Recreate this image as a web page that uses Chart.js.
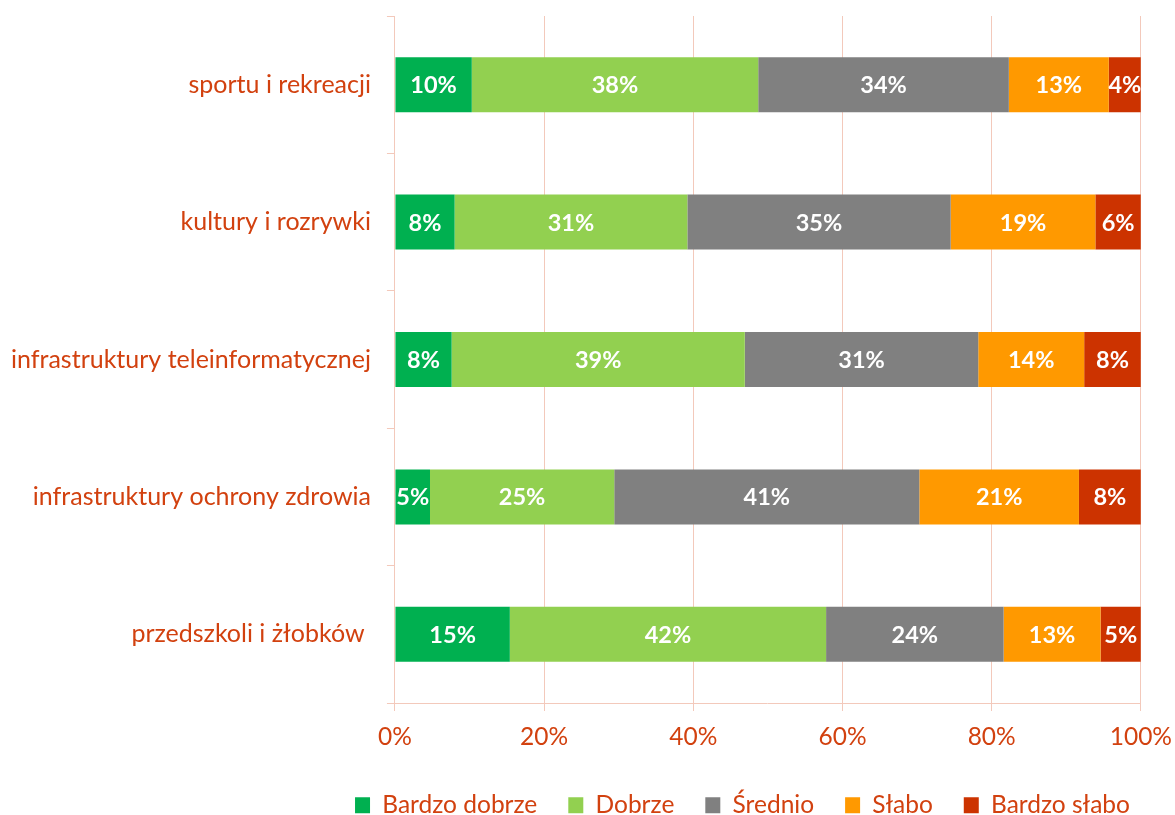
<!DOCTYPE html>
<html>
<head>
<meta charset="utf-8">
<script src="https://cdn.jsdelivr.net/npm/chart.js@4"></script>
<style>
    html, body { margin: 0; padding: 0; background: #ffffff; }
    #wrap { width: 1175px; height: 815px; }
</style>
</head>
<body>
<div id="wrap"><canvas id="chart"></canvas></div>
<script>
// Categories (top to bottom)
const categories = [
    'sportu i rekreacji',
    'kultury i rozrywki',
    'infrastruktury teleinformatycznej',
    'infrastruktury ochrony zdrowia',
    'przedszkoli i żłobków '
];

// Series values in %
const bardzoDobrze = [10.3, 8.0, 7.6, 4.7, 15.4];
const dobrze = [38.4, 31.2, 39.3, 24.7, 42.4];
const srednio = [33.6, 35.3, 31.3, 40.9, 23.8];
const slabo = [13.4, 19.4, 14.2, 21.4, 13.0];
const bardzoSlabo = [4.3, 6.1, 7.6, 8.3, 5.4];

const seriesNames = ['Bardzo dobrze', 'Dobrze', 'Średnio', 'Słabo', 'Bardzo słabo'];
const seriesColors = ['#00b050', '#92d050', '#808080', '#ff9900', '#cc3300'];

const xTicks = [0, 20, 40, 60, 80, 100];

const textColor = '#d2410f';
const gridColor = '#f3c9bb';
const fontFamily = 'Lato, "Open Sans", sans-serif';

// Draw the rounded value in the middle of each bar
const barLabels = {
    id: 'barLabels',
    afterDatasetsDraw(chart) {
        const ctx = chart.ctx;
        ctx.save();
        ctx.fillStyle = '#ffffff';
        ctx.font = 'bold 23.5px ' + fontFamily;
        ctx.textAlign = 'center';
        ctx.textBaseline = 'middle';
        chart.data.datasets.forEach((ds, i) => {
            const meta = chart.getDatasetMeta(i);
            meta.data.forEach((bar, j) => {
                const p = bar.getCenterPoint();
                ctx.fillText(Math.round(ds.data[j]) + '%', p.x, p.y + 1);
            });
        });
        ctx.restore();
    }
};

// Nudge the legend so it sits like in the original (centred under the bars)
const legendNudge = {
    id: 'legendNudge',
    afterLayout(chart) {
        const lg = chart.legend;
        if (!lg) return;
        const dx = 159, dy = -1;
        lg.left += dx;
        lg.right += dx;
        lg.top += dy;
        lg.bottom += dy;
    }
};

const allSeries = [bardzoDobrze, dobrze, srednio, slabo, bardzoSlabo];

new Chart(document.getElementById('chart'), {
    type: 'bar',
    data: {
        labels: categories,
        datasets: allSeries.map((values, i) => ({
            label: seriesNames[i],
            data: values,
            backgroundColor: seriesColors[i],
            borderWidth: 0,
            categoryPercentage: 0.8,
            barPercentage: 0.5
        }))
    },
    options: {
        indexAxis: 'y',
        responsive: true,
        maintainAspectRatio: false,
        animation: false,
        layout: { padding: { top: 16, right: 3, left: -5, bottom: -13.5 } },
        plugins: {
            legend: {
                position: 'bottom',
                labels: {
                    color: textColor,
                    font: { family: fontFamily, size: 24.5 },
                    boxWidth: 15,
                    boxHeight: 16,
                    padding: 31
                }
            },
            tooltip: { enabled: false }
        },
        scales: {
            x: {
                stacked: true,
                min: 0,
                max: 100,
                afterBuildTicks(axis) {
                    axis.ticks = xTicks.map(v => ({ value: v }));
                },
                ticks: {
                    color: textColor,
                    font: { family: fontFamily, size: 24.5, lineHeight: '46px' },
                    padding: 3,
                    maxRotation: 0,
                    callback: v => v + '%'
                },
                grid: {
                    color: gridColor,
                    tickLength: 8
                },
                border: { color: gridColor }
            },
            y: {
                stacked: true,
                afterFit(axis) {
                    // labels sit in the middle of the bands, no extra room needed above
                    axis.paddingTop = 0;
                    axis.paddingBottom = 0;
                },
                ticks: {
                    color: textColor,
                    font: { family: fontFamily, size: 25 },
                    padding: 16
                },
                grid: {
                    offset: true,
                    drawOnChartArea: false,
                    color: gridColor,
                    tickLength: 8
                },
                border: { color: gridColor }
            }
        }
    },
    plugins: [barLabels, legendNudge]
});
</script>
</body>
</html>
